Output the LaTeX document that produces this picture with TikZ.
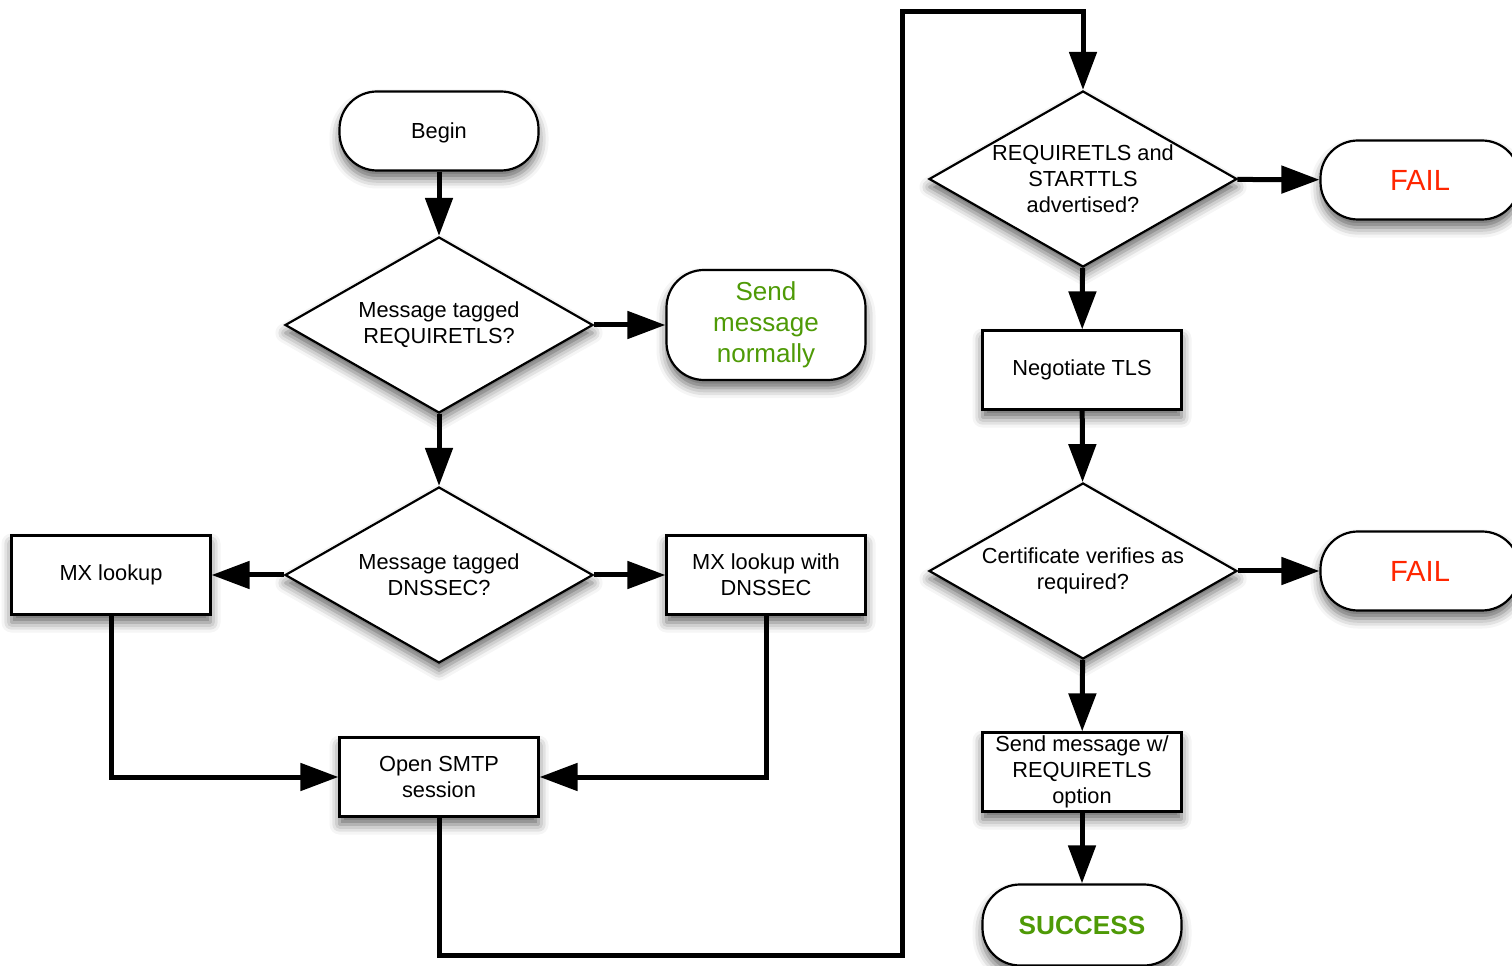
\documentclass[tikz,border=0pt]{standalone}
\usepackage{fontspec}
\setmainfont{Liberation Sans}
\usepackage[dvipsnames]{xcolor}
\usepackage{tikz}
\usetikzlibrary{calc, positioning}
\usetikzlibrary{shadows, shadows.blur}
\usetikzlibrary{shapes, arrows.meta}
\definecolor{okgreen}{RGB}{78,154,6}
\definecolor{failred}{RGB}{255,38,0}
\tikzset{
    flow/.style={line width=0.1cm, -{Triangle[length=0.76cm,width=0.54cm]}},% thick connectors with big solid heads
    shade/.style={blur shadow={shadow xshift=0pt, shadow yshift=-0.16cm, shadow blur radius=0.2cm, shadow opacity=60}},
}

\begin{document}
\begin{tikzpicture}
            [every node/.style={font=\fontsize{12.4}{14.8}\selectfont, align=center, inner sep=0pt},
            box/.style={rectangle, draw, line width=1.25pt, fill=white, shade, minimum width=3.98cm, minimum height=1.58cm},
            term/.style={box, rounded corners=0.75cm},
            decision/.style={diamond, draw, line width=1.25pt, fill=white, shade, minimum width=6.16cm, minimum height=3.52cm},
            good/.style={text=okgreen, font=\fontsize{14.8}{17.6}\selectfont},
            bad/.style={text=failred, font=\fontsize{16.6}{19}\selectfont}]
            \useasboundingbox (0,0) rectangle (30.24,-19.32);
            \clip (0,0) rectangle (30.24,-19.32);
            % left column
            \node(begin) [term, text depth=0pt] at (8.78,-2.62) {Begin};
            \node(tagged) [decision, label={center:Message tagged\\REQUIRETLS?}] at (8.78,-6.50) {};
            \node(normal) [term, good, minimum height=2.2cm] at (15.32,-6.50) {Send\\message\\normally};
            \node(dnssec) [decision, label={center:Message tagged\\DNSSEC?}] at (8.78,-11.50) {};
            \node(mx) [box] at (2.22,-11.50) {MX lookup};
            \node(mxsec) [box] at (15.32,-11.50) {MX lookup with\\DNSSEC};
            \node(smtp) [box] at (8.78,-15.54) {Open SMTP\\session};
            % right column
            \node(adv) [decision, label={center:REQUIRETLS and\\STARTTLS\\advertised?}] at (21.66,-3.58) {};
            \node(fail1) [term, bad] at (28.4,-3.6) {FAIL};
            \node(tls) [box] at (21.64,-7.40) {Negotiate TLS};
            \node(cert) [decision, label={center:Certificate verifies as\\required?}] at (21.66,-11.42) {};
            \node(fail2) [term, bad] at (28.4,-11.42) {FAIL};
            \node(sendw) [box] at (21.64,-15.44) {Send message w/\\REQUIRETLS\\option};
            \node(success) [term, good, font=\fontsize{14.9}{17.6}\selectfont\bfseries, minimum height=1.62cm] at (21.64,-18.5) {SUCCESS};
            \coordinate (low) at (18.04,-19.1);
            \coordinate (high) at (18.04,-0.24);
            \draw[flow] (begin) -- (tagged);
            \draw[flow] (tagged) -- (normal);
            \draw[flow] (tagged) -- (dnssec);
            \draw[flow] (dnssec) -- (mx);
            \draw[flow] (dnssec) -- (mxsec);
            \draw[flow] (mx.south) |- (smtp.west);
            \draw[flow] (mxsec.south) |- (smtp.east);
            \draw[flow] (smtp.south) |- (low) -- (high) -| (adv.north);
            \draw[flow] (adv) -- (fail1);
            \draw[flow] (adv) -- (tls);
            \draw[flow] (tls) -- (cert);
            \draw[flow] (cert) -- (fail2);
            \draw[flow] (cert) -- (sendw);
            \draw[flow] (sendw) -- (success);
        \end{tikzpicture}
\end{document}
